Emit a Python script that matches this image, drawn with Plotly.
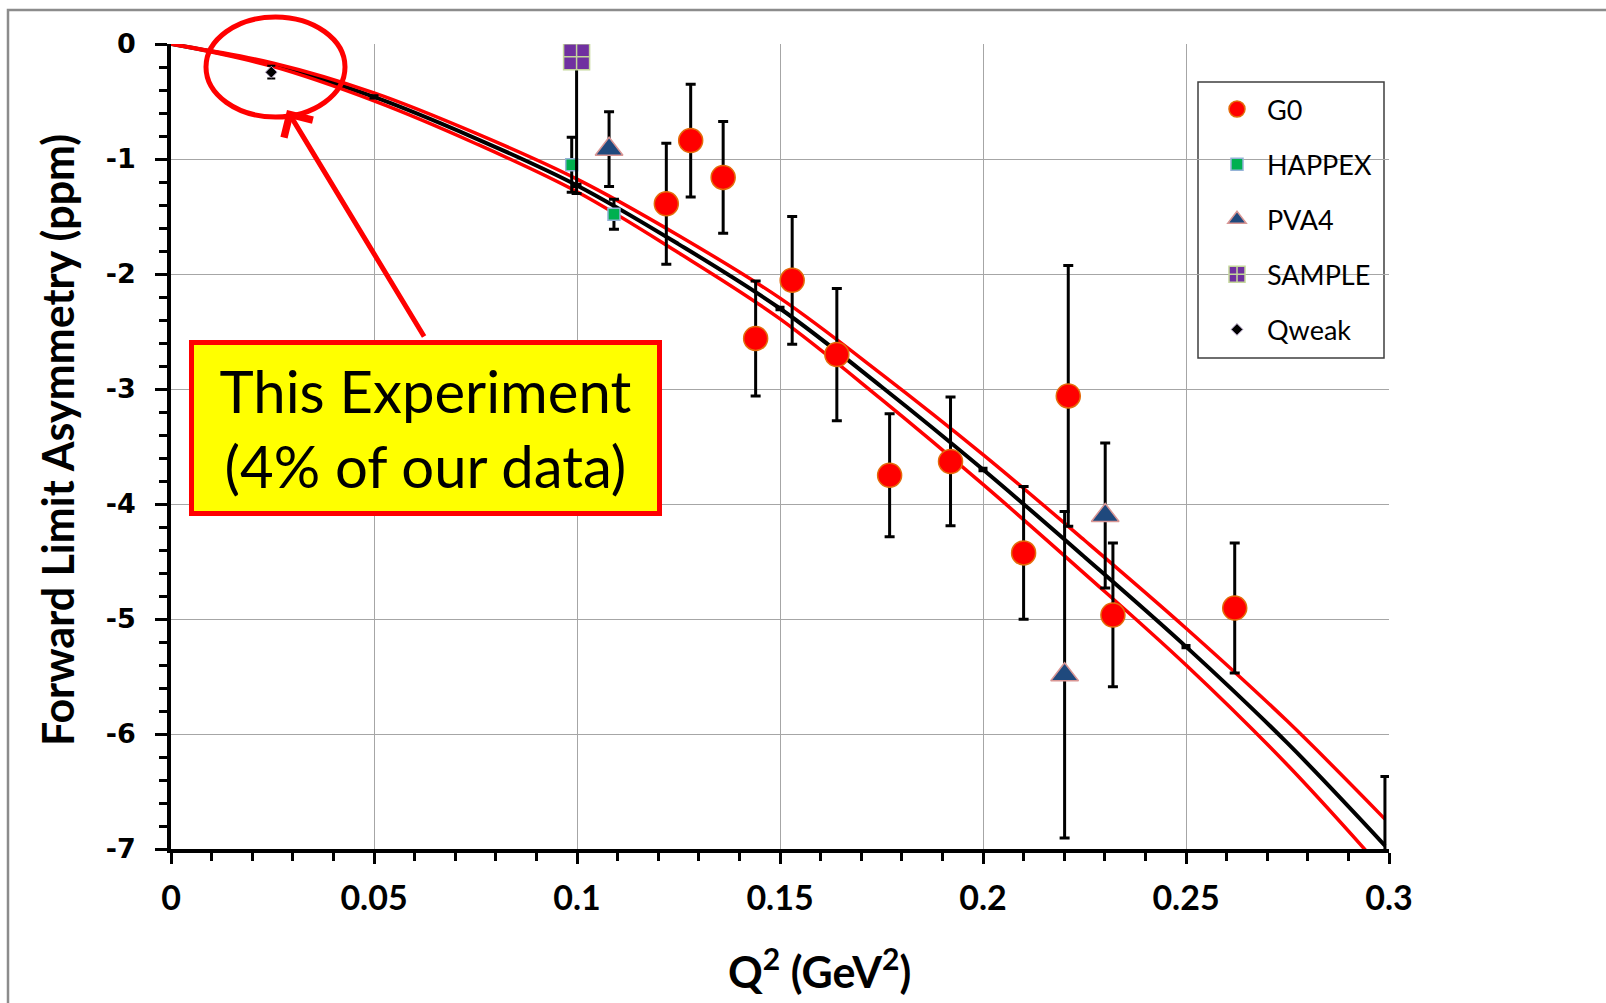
import plotly.graph_objects as go

# ---------------- data ----------------
curve_x = [0, 0.025, 0.05, 0.075, 0.1, 0.125, 0.15, 0.175, 0.2, 0.225, 0.25, 0.275, 0.299]
curve_y = [0, -0.18, -0.46, -0.82, -1.23, -1.74, -2.30, -2.98, -3.70, -4.46, -5.24, -6.08, -6.97]
band_upper = [0, -0.165, -0.425, -0.775, -1.175, -1.665, -2.21, -2.87, -3.57, -4.315, -5.08, -5.89, -6.74]
band_lower = [0, -0.195, -0.495, -0.865, -1.285, -1.815, -2.39, -3.09, -3.83, -4.605, -5.40, -6.27, -7.20]
curve_err_idx = [2, 4, 6, 8, 10, 12]
curve_err = [0.01, 0.01, 0.01, 0.01, 0.01, 0.6]

g0_x = [0.122, 0.128, 0.136, 0.144, 0.153, 0.164, 0.177, 0.192, 0.210, 0.221, 0.232, 0.262]
g0_y = [-1.39, -0.84, -1.16, -2.56, -2.055, -2.70, -3.75, -3.63, -4.425, -3.06, -4.965, -4.905]
g0_err = [0.526, 0.49, 0.485, 0.50, 0.555, 0.575, 0.535, 0.56, 0.577, 1.134, 0.625, 0.565]

happex_x = [0.0987, 0.1091]
happex_y = [-1.05, -1.48]
happex_err = [0.24, 0.13]

pva4_x = [0.1079, 0.2201, 0.2301]
pva4_y = [-0.915, -5.485, -4.10]
pva4_err = [0.325, 1.42, 0.63]

sample_x = [0.0999]
sample_y = [-0.11]
sample_err = [1.19]

qweak_x = [0.0247]
qweak_y = [-0.245]
qweak_err = [0.055]

x_tick_vals = [0, 0.05, 0.1, 0.15, 0.2, 0.25, 0.3]
x_tick_text = ["0", "0.05", "0.1", "0.15", "0.2", "0.25", "0.3"]
y_tick_vals = [0, -1, -2, -3, -4, -5, -6, -7]
y_tick_text = ["0", "-1", "-2", "-3", "-4", "-5", "-6", "-7"]

x_title = "Q<sup>2</sup> (GeV<sup>2</sup>)"
y_title = "Forward Limit Asymmetry (ppm)"
box_text = "This Experiment<br>(4% of our data)"

# ---------------- figure ----------------
W, H = 1606, 1003
ML, MR, MT, MB = 171, 217, 44, 154
PW, PH = W - ML - MR, H - MT - MB


def px_x(p):
    return (p - ML) / PW


def px_y(p):
    return (H - MB - p) / PH


fig = go.Figure()

fig.add_trace(go.Scatter(x=curve_x, y=curve_y, mode="lines", line=dict(color="black", width=4, shape="spline"),
                         showlegend=False, hoverinfo="skip"))
fig.add_trace(go.Scatter(x=curve_x, y=band_upper, mode="lines", line=dict(color="#FF0000", width=3.5, shape="spline"),
                         showlegend=False, hoverinfo="skip"))
fig.add_trace(go.Scatter(x=curve_x, y=band_lower, mode="lines", line=dict(color="#FF0000", width=3.5, shape="spline"),
                         showlegend=False, hoverinfo="skip"))
fig.add_trace(go.Scatter(x=[curve_x[i] for i in curve_err_idx], y=[curve_y[i] for i in curve_err_idx],
                         mode="markers", marker=dict(size=1, opacity=0),
                         error_y=dict(type="data", array=curve_err, color="black", thickness=3, width=4.5),
                         showlegend=False, hoverinfo="skip"))

eb = dict(type="data", color="black", thickness=3, width=5)

fig.add_trace(go.Scatter(name="G0", x=g0_x, y=g0_y, mode="markers", legendgroup="a",
                         marker=dict(symbol="circle", size=24, color="#FF0000", line=dict(color="#E46C0A", width=1.5)),
                         error_y=dict(array=g0_err, **eb)))
fig.add_trace(go.Scatter(name="HAPPEX", x=happex_x, y=happex_y, mode="markers", legendgroup="b",
                         marker=dict(symbol="square", size=12, color="#00B050", line=dict(color="#95B3D7", width=1.5)),
                         error_y=dict(array=happex_err, **eb)))
fig.add_trace(go.Scatter(name="PVA4", x=pva4_x, y=pva4_y, mode="markers", legendgroup="c",
                         marker=dict(symbol="triangle-up", size=24, color="#1F497D", line=dict(color="#D99694", width=1.5)),
                         error_y=dict(array=pva4_err, **eb)))
fig.add_trace(go.Scatter(name="SAMPLE", x=sample_x, y=sample_y, mode="markers", legendgroup="d",
                         marker=dict(symbol="square-cross", size=26, color="#7030A0", line=dict(color="#C4D79B", width=1.5)),
                         error_y=dict(array=sample_err, **eb)))
fig.add_trace(go.Scatter(name="Qweak", x=qweak_x, y=qweak_y, mode="markers", legendgroup="e",
                         marker=dict(symbol="diamond", size=9, color="black", line=dict(color="#B3A2C7", width=1)),
                         error_y=dict(array=qweak_err, type="data", color="black", thickness=2, width=4)))

fig.update_xaxes(range=[0, 0.3], tickvals=x_tick_vals, ticktext=x_tick_text,
                 showline=True, linecolor="black", linewidth=3.5,
                 ticks="outside", ticklen=11, tickwidth=3, tickcolor="black", ticklabelstandoff=5,
                 minor=dict(dtick=0.01, tick0=0, ticks="outside", ticklen=8, tickwidth=3, tickcolor="black", showgrid=False),
                 showgrid=True, gridcolor="#A6A6A6", gridwidth=1.3, zeroline=False,
                 tickfont=dict(family="Lato, Open Sans, sans-serif", size=34, color="black", weight="bold"))
fig.update_yaxes(range=[-7, 0], tickvals=y_tick_vals, ticktext=y_tick_text,
                 showline=True, linecolor="black", linewidth=3.5,
                 ticks="outside", ticklen=12, tickwidth=3, tickcolor="black", ticklabelstandoff=14,
                 minor=dict(dtick=0.2, tick0=0, ticks="outside", ticklen=8, tickwidth=3, tickcolor="black", showgrid=False),
                 showgrid=True, gridcolor="#A6A6A6", gridwidth=1.3, zeroline=False,
                 tickfont=dict(family="DejaVu Sans, sans-serif", size=27, color="black", weight="bold"))

fig.update_layout(
    width=W, height=H, autosize=False,
    margin=dict(l=ML, r=MR, t=MT, b=MB),
    paper_bgcolor="white", plot_bgcolor="white",
    legend=dict(x=px_x(1207), y=px_y(85), xanchor="left", yanchor="top",
                bgcolor="rgba(0,0,0,0)", borderwidth=0,
                font=dict(family="Lato, Open Sans, sans-serif", size=27, color="black"),
                tracegroupgap=17, itemsizing="trace", itemwidth=50),
    shapes=[
        dict(type="rect", xref="paper", yref="paper", x0=px_x(8), x1=px_x(1615), y0=px_y(1015), y1=px_y(10),
             line=dict(color="#8C8C8C", width=2.5), layer="below"),
        dict(type="rect", xref="paper", yref="paper", x0=px_x(1198), x1=px_x(1384), y0=px_y(358), y1=px_y(82),
             line=dict(color="#3F3F3F", width=1.5), fillcolor="white", layer="between"),
        dict(type="circle", xref="paper", yref="paper", x0=px_x(206), x1=px_x(345), y0=px_y(117), y1=px_y(17),
             line=dict(color="#FF0000", width=5)),
    ],
    annotations=[
        dict(xref="paper", yref="paper", x=px_x(819), y=px_y(968), text=x_title, showarrow=False,
             font=dict(family="Lato, Open Sans, sans-serif", size=43, color="black", weight="bold"),
             xanchor="center", yanchor="middle"),
        dict(xref="paper", yref="paper", x=px_x(58), y=px_y(440), text=y_title, showarrow=False, textangle=-90,
             font=dict(family="Lato, Open Sans, sans-serif", size=43, color="black", weight="bold"),
             xanchor="center", yanchor="middle"),
        dict(xref="paper", yref="paper", x=px_x(287), y=px_y(110), ax=425 - 287, ay=338 - 110,
             axref="pixel", ayref="pixel", text="", showarrow=True, arrowhead=4, arrowsize=1.3,
             arrowwidth=5, arrowcolor="#FF0000", standoff=0),
        dict(xref="paper", yref="paper", x=px_x(425.5), y=px_y(427.5), text=box_text, showarrow=False,
             font=dict(family="Lato, Open Sans, sans-serif", size=58, color="black"),
             bgcolor="#FFFF00", bordercolor="#FF0000", borderwidth=5, borderpad=4,
             width=455, height=158, xanchor="center", yanchor="middle", align="center"),
    ],
)

fig.write_html("out.html", config={"displayModeBar": False},
               post_script="document.body.style.margin='0';")
